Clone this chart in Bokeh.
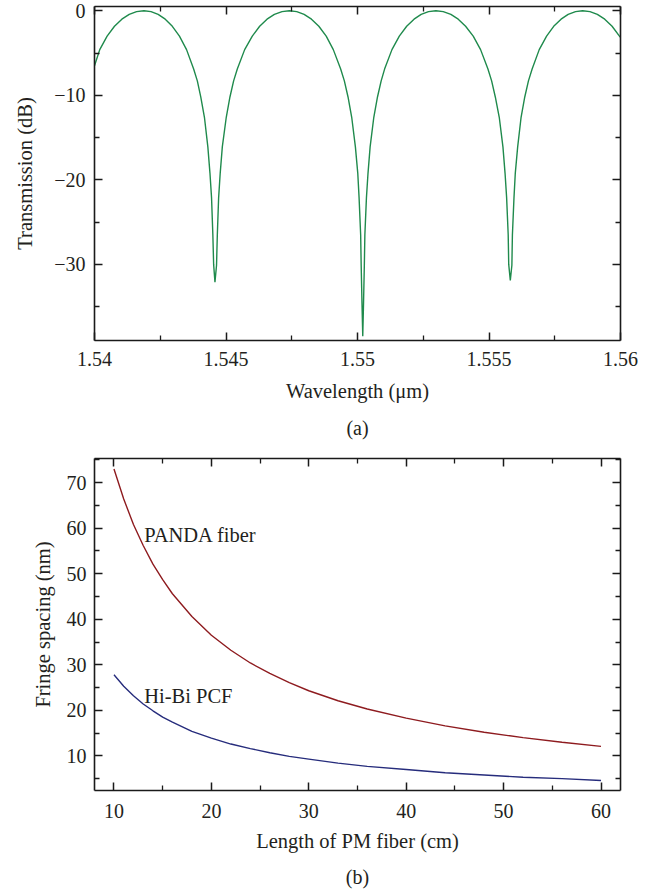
from bokeh.plotting import figure
from bokeh.models import LinearAxis, FixedTicker, Range1d, Title, Label
from bokeh.layouts import column
from bokeh.embed import file_html
from bokeh.resources import INLINE

# ---------------- data: panel (a) ----------------
WAVELENGTH_UM = [
    1.54000, 1.54020, 1.54048, 1.54076, 1.54104, 1.54132, 1.54160, 1.54188,
    1.54215, 1.54242, 1.54269, 1.54296, 1.54323, 1.54350, 1.54377, 1.54391,
    1.54404, 1.54418, 1.54431, 1.54439, 1.54445, 1.54450, 1.54453, 1.54458,
    1.54464, 1.54467, 1.54472, 1.54478, 1.54486, 1.54501, 1.54515, 1.54529,
    1.54543, 1.54571, 1.54600, 1.54628, 1.54656, 1.54684, 1.54713, 1.54741,
    1.54769, 1.54797, 1.54825, 1.54853, 1.54881, 1.54908, 1.54936, 1.54950,
    1.54964, 1.54978, 1.54992, 1.55001, 1.55006, 1.55012, 1.55014, 1.55017,
    1.55020,
    1.55023, 1.55026, 1.55028, 1.55034, 1.55040, 1.55048, 1.55062, 1.55076,
    1.55090, 1.55103, 1.55131, 1.55159, 1.55187, 1.55215, 1.55242, 1.55270,
    1.55298,
    1.55326, 1.55355, 1.55383, 1.55411, 1.55440, 1.55468, 1.55496, 1.55510,
    1.55524, 1.55539, 1.55553, 1.55561, 1.55567, 1.55573, 1.55575, 1.55581,
    1.55587, 1.55589, 1.55595, 1.55600, 1.55609, 1.55622, 1.55636, 1.55650,
    1.55664, 1.55691, 1.55719, 1.55746, 1.55774, 1.55801, 1.55829, 1.55856,
    1.55884, 1.55912, 1.55940, 1.55968, 1.55996, 1.56000,
]
TRANSMISSION_DB = [
    -6.5, -4.6, -3.0, -1.84, -1.0, -0.44, -0.11, 0.0,
    -0.11, -0.44, -1.0, -1.84, -3.0, -4.6, -6.9, -8.3,
    -10.2, -12.6, -16.1, -19.2, -22.1, -26.5, -30.0, -32.1,
    -30.1, -26.5, -22.1, -19.2, -16.1, -12.6, -10.2, -8.3,
    -6.9, -4.6, -3.0, -1.84, -1.0, -0.44, -0.11, 0.0,
    -0.11, -0.44, -1.0, -1.84, -3.0, -4.6, -6.9, -8.3,
    -10.2, -12.6, -16.1, -19.2, -22.1, -26.5, -30.1, -34.5,
    -38.5,
    -34.5, -30.1, -26.5, -22.1, -19.2, -16.1, -12.6, -10.2,
    -8.3, -6.9, -4.6, -3.0, -1.84, -1.0, -0.44, -0.11,
    0.0,
    -0.11, -0.44, -1.0, -1.84, -3.0, -4.6, -6.9, -8.3,
    -10.2, -12.6, -16.1, -19.2, -22.1, -26.5, -30.0, -31.9,
    -30.1, -26.5, -22.1, -19.2, -16.1, -12.6, -10.2, -8.3,
    -6.9, -4.6, -3.0, -1.84, -1.0, -0.44, -0.11, 0.0,
    -0.11, -0.44, -1.0, -1.84, -3.0, -3.15,
]
A_XTICKS = [1.54, 1.545, 1.55, 1.555, 1.56]
A_XTICK_LABELS = ["1.54", "1.545", "1.55", "1.555", "1.56"]
A_XMINOR = [1.5425, 1.5475, 1.5525, 1.5575]
A_YTICKS = [0, -10, -20, -30]
A_YTICK_LABELS = ["0", "\u221210", "\u221220", "\u221230"]
A_YMINOR = [-5, -15, -25, -35]

# ---------------- data: panel (b) ----------------
LENGTH_CM = [10, 11, 12, 13, 14, 15, 16, 18, 20, 22, 24, 26, 28, 30,
             33, 36, 40, 44, 48, 52, 56, 60]
PANDA_NM = [73.0, 66.4, 60.8, 56.2, 52.1, 48.7, 45.6, 40.6, 36.5, 33.2, 30.4,
            28.1, 26.1, 24.3, 22.1, 20.3, 18.3, 16.6, 15.2, 14.0, 13.0, 12.1]
PCF_NM = [27.8, 25.3, 23.2, 21.4, 19.9, 18.5, 17.4, 15.4, 13.9, 12.6, 11.6,
          10.7, 9.9, 9.3, 8.4, 7.7, 7.0, 6.3, 5.8, 5.3, 5.0, 4.6]
B_XTICKS = [10, 20, 30, 40, 50, 60]
B_XMINOR = [15, 25, 35, 45, 55]
B_YTICKS = [10, 20, 30, 40, 50, 60, 70]
B_YMINOR = [5, 15, 25, 35, 45, 55, 65, 75]

FONT = "Liberation Serif"
TXT = "#231f20"
AXC = "#1a1a1a"


def style_axis(ax, ticks, minor, labels=None, show_labels=True):
    ax.ticker = FixedTicker(ticks=ticks, minor_ticks=minor)
    ax.major_tick_in = 8
    ax.major_tick_out = 0
    ax.minor_tick_in = 5
    ax.minor_tick_out = 0
    ax.axis_line_width = 1.6
    ax.axis_line_color = AXC
    ax.major_tick_line_width = 1.5
    ax.major_tick_line_color = AXC
    ax.minor_tick_line_width = 1.3
    ax.minor_tick_line_color = AXC
    ax.major_label_text_font = FONT
    ax.major_label_text_font_size = "20px"
    ax.major_label_text_color = TXT
    ax.axis_label_text_font = FONT
    ax.axis_label_text_font_size = "20.5px"
    ax.axis_label_text_font_style = "normal"
    ax.axis_label_text_color = TXT
    if show_labels:
        if labels is not None:
            ax.major_label_overrides = {t: l for t, l in zip(ticks, labels)}
    else:
        ax.major_label_overrides = {t: "" for t in ticks}
        ax.major_label_standoff = 0


def caption(text, standoff):
    return Title(text=text, align="center", text_font=FONT,
                 text_font_size="20px", text_font_style="normal",
                 text_color=TXT, standoff=standoff)


# ---------------- panel (a) ----------------
p1 = figure(width=638, height=449,
            x_range=Range1d(1.54, 1.56), y_range=Range1d(-39, 0.5),
            output_backend="svg", toolbar_location=None,
            min_border_left=92, min_border_right=18,
            min_border_top=6, min_border_bottom=108)
p1.line(WAVELENGTH_UM, TRANSMISSION_DB, line_color="#1f8a4c", line_width=1.4)
style_axis(p1.xaxis[0], A_XTICKS, A_XMINOR, A_XTICK_LABELS)
style_axis(p1.yaxis[0], A_YTICKS, A_YMINOR, A_YTICK_LABELS)
p1.xaxis[0].axis_label = "Wavelength (\u03bcm)"
p1.yaxis[0].axis_label = "Transmission (dB)"
p1.xaxis[0].major_label_standoff = 11
p1.yaxis[0].major_label_standoff = 9
p1.xaxis[0].axis_label_standoff = 11
p1.yaxis[0].axis_label_standoff = 15
top1 = LinearAxis()
right1 = LinearAxis()
style_axis(top1, A_XTICKS, A_XMINOR, show_labels=False)
style_axis(right1, A_YTICKS, A_YMINOR, show_labels=False)
p1.add_layout(top1, "above")
p1.add_layout(right1, "right")
p1.add_layout(caption("(a)", 21), "below")

# ---------------- panel (b) ----------------
p2 = figure(width=638, height=447,
            x_range=Range1d(8, 62), y_range=Range1d(2.4, 75.3),
            output_backend="svg", toolbar_location=None,
            min_border_left=94, min_border_right=18,
            min_border_top=9, min_border_bottom=103)
p2.line(LENGTH_CM, PANDA_NM, line_color="#8e1b1f", line_width=1.4)
p2.line(LENGTH_CM, PCF_NM, line_color="#262c7c", line_width=1.4)
style_axis(p2.xaxis[0], B_XTICKS, B_XMINOR)
style_axis(p2.yaxis[0], B_YTICKS, B_YMINOR)
p2.xaxis[0].axis_label = "Length of PM fiber (cm)"
p2.yaxis[0].axis_label = "Fringe spacing (nm)"
p2.xaxis[0].major_label_standoff = 13
p2.yaxis[0].major_label_standoff = 8
p2.xaxis[0].axis_label_standoff = 9
p2.yaxis[0].axis_label_standoff = 10
top2 = LinearAxis()
right2 = LinearAxis()
style_axis(top2, B_XTICKS, B_XMINOR, show_labels=False)
style_axis(right2, B_YTICKS, B_YMINOR, show_labels=False)
p2.add_layout(top2, "above")
p2.add_layout(right2, "right")
p2.add_layout(caption("(b)", 18), "below")

p2.add_layout(Label(x=13.1, y=58.5, text="PANDA fiber", text_font=FONT,
                    text_font_size="20.5px", text_color=TXT,
                    text_baseline="alphabetic"))
p2.add_layout(Label(x=13.1, y=23.2, text="Hi-Bi PCF", text_font=FONT,
                    text_font_size="20.5px", text_color=TXT,
                    text_baseline="alphabetic"))

for p in (p1, p2):
    p.xgrid.visible = False
    p.ygrid.visible = False
    p.outline_line_color = None
    p.background_fill_color = "white"
    p.border_fill_color = "white"

layout = column(p1, p2, spacing=0)
open("out.html", "w").write(file_html(layout, INLINE))
